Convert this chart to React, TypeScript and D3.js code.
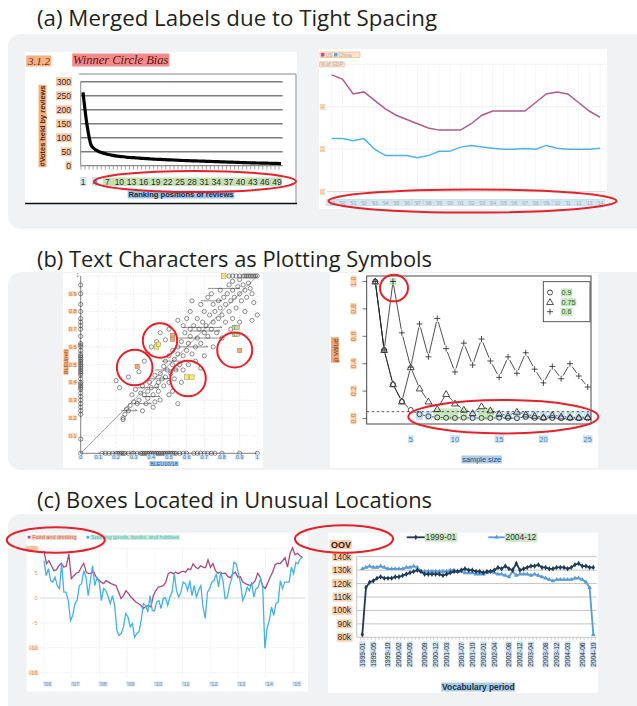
import React, { useLayoutEffect, useRef, useState } from 'react';
import * as d3 from 'd3';

// ---------------- data ----------------

// (a) left: votes held by review ranking position
const rankPositions = d3.range(1, 51);
const votesHeld = [262, 145, 74, 58, 50, 45, 41, 38, 35, 33, 32, 30, 29, 28, 27, 26, 25, 24, 23, 22.5,
  22, 21, 20.5, 20, 19, 18.5, 18, 17.5, 17, 16.5, 16, 15.5, 15, 14.5, 14, 13.5, 13, 12.5, 12, 11.5,
  11, 10.5, 10, 9.7, 9.4, 9, 8.7, 8.3, 8, 7.5];
const votesTicks = [0, 50, 100, 150, 200, 250, 300];
const rankTickLabels = [1, 4, 7, 10, 13, 16, 19, 22, 25, 28, 31, 34, 37, 40, 43, 46, 49];

// (a) right: % of GDP
const gdpYears = d3.range(1989, 2015);
const usGdp = [5.5, 5.3, 4.6, 4.7, 4.3, 3.9, 3.6, 3.4, 3.2, 3.0, 2.9, 2.9, 2.9, 3.2, 3.6, 3.8, 3.8, 3.8, 3.8, 4.2, 4.6, 4.7, 4.6, 4.2, 3.8, 3.5];
const chinaGdp = [2.5, 2.5, 2.4, 2.5, 2.0, 1.7, 1.7, 1.7, 1.6, 1.7, 1.9, 1.9, 2.1, 2.17, 2.1, 2.05, 2.0, 2.0, 2.03, 2.0, 2.18, 2.05, 2.0, 2.0, 2.0, 2.05];
const gdpTicks = [0, 2, 4];
const gdpLabelGroups = [[1989, 1996], [1997, 1997], [1998, 2008], [2009, 2009], [2010, 2014]];

// (b) left: scatter
const scatterCloud: [number, number][] = [
  [0.24, 0.19], [0.24, 0.2], [0.25, 0.22], [0.26, 0.25], [0.27, 0.24], [0.28, 0.27], [0.3, 0.29], [0.29, 0.33],
  [0.31, 0.36], [0.32, 0.28], [0.33, 0.3], [0.34, 0.34], [0.35, 0.38], [0.36, 0.33], [0.37, 0.28], [0.38, 0.31],
  [0.38, 0.35], [0.39, 0.4], [0.4, 0.37], [0.41, 0.33], [0.42, 0.29], [0.42, 0.44], [0.43, 0.38], [0.44, 0.4],
  [0.44, 0.35], [0.45, 0.45], [0.46, 0.42], [0.47, 0.38], [0.47, 0.49], [0.48, 0.43], [0.48, 0.52], [0.49, 0.47],
  [0.5, 0.4], [0.5, 0.55], [0.51, 0.45], [0.52, 0.5], [0.52, 0.58], [0.53, 0.42], [0.53, 0.53], [0.54, 0.47],
  [0.55, 0.56], [0.55, 0.6], [0.56, 0.5], [0.57, 0.63], [0.58, 0.55], [0.58, 0.47], [0.59, 0.68], [0.6, 0.58],
  [0.61, 0.62], [0.61, 0.5], [0.62, 0.66], [0.63, 0.56], [0.64, 0.72], [0.65, 0.6], [0.66, 0.65], [0.66, 0.76],
  [0.67, 0.7], [0.68, 0.62], [0.69, 0.74], [0.7, 0.68], [0.7, 0.8], [0.71, 0.72], [0.72, 0.66], [0.73, 0.78],
  [0.74, 0.7], [0.75, 0.84], [0.75, 0.74], [0.76, 0.8], [0.77, 0.68], [0.78, 0.86], [0.78, 0.76], [0.79, 0.82],
  [0.8, 0.78], [0.81, 0.88], [0.82, 0.84], [0.82, 0.74], [0.83, 0.9], [0.84, 0.8], [0.85, 0.86], [0.86, 0.92],
  [0.86, 0.76], [0.87, 0.88], [0.88, 0.82], [0.89, 0.94], [0.9, 0.9], [0.91, 0.86], [0.92, 0.95], [0.93, 0.92],
  [0.94, 0.88], [0.95, 0.96], [0.96, 0.93], [0.97, 0.9], [0.98, 0.85], [1.0, 0.78], [0.93, 0.8], [0.97, 0.75],
  [0.2, 0.41], [0.22, 0.37], [0.27, 0.43], [0.33, 0.46], [0.36, 0.52], [0.38, 0.56], [0.4, 0.6], [0.43, 0.63],
  [0.45, 0.68], [0.48, 0.64], [0.5, 0.7], [0.55, 0.75], [0.6, 0.76], [0.62, 0.8], [0.68, 0.84], [0.72, 0.88],
  [0.65, 0.52], [0.7, 0.55], [0.52, 0.35], [0.57, 0.4], [0.45, 0.3], [0.5, 0.33], [0.35, 0.24], [0.41, 0.26],
  [0.55, 0.28], [0.68, 0.48], [0.75, 0.6], [0.85, 0.7], [0.9, 0.74], [0.8, 0.65], [0.62, 0.7], [0.58, 0.72],
  [0.63, 0.86], [0.74, 0.9], [0.79, 0.92], [0.84, 0.95], [0.86, 0.97], [0.9, 0.98],
];
const scatterOnYAxis = [0.0, 0.08, 0.22, 0.24, 0.26, 0.28, 0.3, 0.32, 0.34, 0.36, 0.37, 0.38, 0.39, 0.4, 0.42, 0.44,
  0.45, 0.46, 0.47, 0.48, 0.49, 0.5, 0.51, 0.52, 0.53, 0.54, 0.55, 0.56, 0.58, 0.6, 0.61, 0.62, 0.66, 0.7, 0.72,
  0.74, 0.76, 0.8, 0.84, 0.9, 0.95];
const scatterOnXAxis = [0.12, 0.14, 0.16, 0.18, 0.2, 0.21, 0.22, 0.23, 0.24, 0.25, 0.27, 0.29, 0.3, 0.32, 0.34, 0.35,
  0.36, 0.37, 0.38, 0.39, 0.4, 0.41, 0.42, 0.43, 0.44, 0.45, 0.46, 0.47, 0.48, 0.49, 0.5, 0.51, 0.52, 0.53, 0.54,
  0.56, 0.58, 0.6, 0.64, 0.66, 0.68, 0.7, 0.72, 0.74, 0.76, 0.8, 0.9, 1.0];
const scatterTopRow = [0.84, 0.86, 0.88, 0.9, 0.92, 0.93, 0.94, 0.95, 0.96, 0.97, 0.98, 0.99, 1.0];
const scatterBars: [number, number, number][] = [
  [0.93, 0.72, 0.9], [0.86, 0.68, 0.8], [0.71, 0.58, 0.8], [0.69, 0.62, 0.79], [0.65, 0.55, 0.8], [0.6, 0.55, 0.72],
  [0.52, 0.46, 0.6], [0.47, 0.42, 0.55], [0.42, 0.38, 0.5], [0.37, 0.32, 0.44], [0.32, 0.35, 0.45], [0.28, 0.3, 0.4],
  [0.24, 0.23, 0.32],
];
const scatterMarked: [number, number, string][] = [
  [0.52, 0.665, 'orange'], [0.52, 0.643, 'orange'], [0.32, 0.49, 'orange'], [0.9, 0.58, 'orange'],
  [0.43, 0.6, 'yellow'], [0.44, 0.615, 'yellow'], [0.6, 0.43, 'yellow'], [0.63, 0.43, 'yellow'], [0.81, 1.0, 'yellow'],
  [0.87, 0.71, 'green'], [0.885, 0.71, 'green'], [0.87, 0.67, 'green'], [0.885, 0.67, 'green'],
];
const unitTicks = [0, 0.1, 0.2, 0.3, 0.4, 0.5, 0.6, 0.7, 0.8, 0.9, 1];

// (b) right: p value by sample size
const sampleSizes = d3.range(1, 26);
const pSeries09 = [1, 0.5, 0.25, 0.125, 0.0625, 0.031, 0.016, 0.008, 0.005, 0.004, 0.006, 0.003, 0.004, 0.003, 0.006,
  0.004, 0.002, 0.012, 0.004, 0.003, 0.004, 0.002, 0.003, 0.002, 0.002];
const pSeries075 = [1, 0.5, 0.25, 0.125, 0.375, 0.22, 0.125, 0.07, 0.18, 0.11, 0.065, 0.04, 0.09, 0.06, 0.035,
  0.02, 0.05, 0.03, 0.02, 0.01, 0.025, 0.015, 0.01, 0.008, 0.012];
const pSeries06 = [1, 0.5, 1.0, 0.625, 0.375, 0.69, 0.45, 0.73, 0.51, 0.34, 0.55, 0.39, 0.58, 0.42, 0.30, 0.45,
  0.33, 0.48, 0.36, 0.26, 0.38, 0.29, 0.40, 0.31, 0.23];
const pTicks = [0, 0.2, 0.4, 0.6, 0.8, 1.0];
const sizeTicks = [5, 10, 15, 20, 25];
const pBlueBoxes = [[6, 6], [7, 7], [12, 12], [15, 15], [16, 16], [17, 17], [18, 18], [19, 19], [20, 20], [21, 21], [22, 22], [23, 23], [24, 24], [25, 25]];
const pGreenBoxes = [[8, 10], [11, 11], [13, 14]];

// (c) left: monthly % change, Jan 2006 - Apr 2015
const retailStart = 2006;
const retailEnd = 2015.33;
const foodDrinking = [9.5, 6.9, 7.5, 6.5, 5.5, 5.7, 6.5, 7, 6.2, 6.5, 8.9, 3.9, 4.5, 5, 5.2, 6.2, 7, 5.2, 4.9, 5,
  5.2, 4.2, 3.7, 3.2, 2.9, 3.5, 3.2, 2.9, 2.7, 2.5, 1.2, -0.1, 0.5, 1.5, 0.9, 0.2, -0.3, -0.8, -1.1, -1.5,
  -2.1, -1.7, -1.5, -1.8, 0.5, 1.5, 2.2, 2.3, 2.5, 3.2, 4.9, 5.2, 4.9, 5.2, 4.9, 5.2, 5.4, 5.2, 5.9, 5.7,
  6.9, 6.2, 5.9, 6.5, 6.2, 6.1, 7.7, 6.2, 6.9, 5.5, 5, 5.2, 4.9, 5, 4.3, 4.1, 4.9, 5.2, 4.2, 4.3,
  3.2, 2.9, 2.7, 2.5, 2.9, 3.5, 5, 4.2, 2.5, 1.9, 3, 4.2, 5.2, 6.7, 7, 6.9, 7.5, 8.1, 6.2, 8.9,
  10.1, 8.7, 9, 8.5, 8.2];
const sportingGoods = [7.5, 4.5, 5.9, 3.5, 3.2, 4.2, 2.5, 1.9, 6.9, 1.2, 1.2, -0.5, -4.5, -3.5, -1.1, -0.5, 2.5, 2.9, 5.5, 4.2,
  0.5, 3.5, 6.5, 2.5, 4.1, 3.2, -0.5, 1.9, 1.5, 0.3, -1.1, 0.5, -1.5, -6.5, -7.5, -7.1, -5.8, -3.1, -3.8, -5.8,
  -5.1, -7.9, -7.1, -6.8, -4.5, -1.1, -1.5, -2.8, 0.5, -2.5, -2.6, -0.8, -0.5, -2.1, -0.1, 0.1, -1.5, 0.2, 1.2, 4.9,
  1.5, 0.2, 1.2, 3.2, 2.9, 1.5, 3.5, 0.5, 2.5, 0.2, 1.5, 2.5, -1.8, -4.1, 1.2, 1.9, 3.2, 3.5, 4.9, 2.2,
  5.2, 3.5, -0.1, 0.2, 2.5, 3.9, 7.2, 6.9, 4.9, 2.9, -0.5, 0.5, 2.2, 1.5, 3.2, 0.2, 1.9, 2.2, 3.9, 2.2,
  -10.1, -6.1, -4.5, -1.8, -3.5, -1.1, -0.8, 3.5, 1.9, 3.2, 3.2, 3.2, 6.2, 4.9, 7.2, 6.9, 7.9, 8.2];
const retailYears = [2006, 2007, 2008, 2009, 2010, 2011, 2012, 2013, 2014, 2015];
const retailTicks = [10, 5, 0, -5, -10, -15];

// (c) right: OOV by vocabulary period (thousands)
const oov199901 = [82, 117, 121, 122, 124, 125, 124, 124, 124, 125, 125, 126, 127, 128, 129, 130, 129, 127, 127, 127,
  127, 127, 126, 127, 128, 129, 129, 130, 131, 130, 130, 129, 129, 128, 129, 129, 130, 132, 131, 133,
  131, 130, 135, 130, 131, 132, 133, 133, 134, 132, 132, 131, 131, 132, 132, 132, 131, 132, 134, 135,
  133, 133, 132, 132];
const oov200412 = [131, 132, 133, 132, 132, 133, 132, 131, 131, 131, 131, 131, 132, 132, 133, 132, 129, 129, 129, 129,
  129, 129, 129, 129, 130, 130, 129, 129, 128, 128, 128, 127, 127, 127, 128, 129, 128, 127, 127, 126,
  125, 129, 126, 127, 127, 127, 126, 127, 126, 125, 124, 123, 122, 123, 123, 123, 123, 123, 124, 124,
  123, 121, 117, 82];
const periodLabels = ['1999-01', '1999-05', '1999-10', '2000-02', '2000-05', '2000-09', '2000-12', '2001-03',
  '2001-07', '2001-10', '2002-01', '2002-04', '2002-08', '2002-12', '2003-04', '2003-08', '2003-12', '2004-03',
  '2004-06', '2004-10'];
const oovTicks = [80, 90, 100, 110, 120, 130, 140];

// ---------------- helpers ----------------

const SANS = "'Liberation Sans', Arial, sans-serif";
const RED = '#e5212b';

type LabelProps = {
  x: number; y: number; text: string | number; size?: number; fill?: string; bg?: string; stroke?: string;
  anchor?: 'start' | 'middle' | 'end'; weight?: number | string; family?: string; italic?: boolean;
  rotate?: number; padX?: number; padY?: number;
};

// text with a highlight rectangle behind it (sized from the rendered text)
const Label: React.FC<LabelProps> = ({ x, y, text, size = 8, fill = '#333', bg, stroke, anchor = 'start',
  weight = 400, family = SANS, italic = false, rotate = 0, padX = 0.8, padY = -0.5 }) => {
  const ref = useRef<SVGTextElement>(null);
  const [box, setBox] = useState<{ x: number; y: number; w: number; h: number } | null>(null);
  useLayoutEffect(() => {
    if (ref.current && (bg || stroke)) {
      const b = ref.current.getBBox();
      setBox({ x: b.x, y: b.y, w: b.width, h: b.height });
    }
  }, [text, size, bg, stroke]);
  return (
    <g transform={`translate(${x},${y}) rotate(${rotate})`}>
      {box && (
        <rect x={box.x - padX} y={box.y - padY} width={box.w + 2 * padX} height={box.h + 2 * padY}
          fill={bg || 'none'} stroke={stroke || 'none'} strokeWidth={0.6} />
      )}
      <text ref={ref} fontSize={size} fill={fill} textAnchor={anchor} fontWeight={weight}
        fontFamily={family} fontStyle={italic ? 'italic' : 'normal'}>{text}</text>
    </g>
  );
};

// R type="b" lines: segments with a gap around each point
function gappedPath(pts: [number, number][], gap = 3.6) {
  const p = d3.path();
  for (let i = 0; i < pts.length - 1; i++) {
    const [x1, y1] = pts[i];
    const [x2, y2] = pts[i + 1];
    const len = Math.hypot(x2 - x1, y2 - y1);
    if (len <= 2 * gap) continue;
    const ux = (x2 - x1) / len, uy = (y2 - y1) / len;
    p.moveTo(x1 + ux * gap, y1 + uy * gap);
    p.lineTo(x2 - ux * gap, y2 - uy * gap);
  }
  return p.toString();
}

// ---------------- (a) left ----------------
const WinnerCircle = () => {
  const x = d3.scaleLinear().domain([1, 50]).range([83, 281]);
  const y = d3.scaleLinear().domain([0, 300]).range([165.7, 81.7]);
  const line = d3.line<number>().x((_, i) => x(rankPositions[i])).y(d => y(d)).curve(d3.curveMonotoneX);
  return (
    <g>
      <rect x={25} y={52} width={272} height={152} fill="#fff" />
      <Label x={28} y={65} text="3.1.2" size={11} italic family="'Liberation Serif', serif" fill="#7a2a10" bg="#f4b183" />
      <Label x={73} y={64} text="Winner Circle Bias" size={12.5} italic family="'Liberation Serif', serif" fill="#6b0f12" bg="#ef8b8b" />
      <line x1={79} x2={296} y1={74} y2={74} stroke="#8a8a8a" />
      <line x1={296} x2={296} y1={74} y2={203} stroke="#8a8a8a" />
      <line x1={25} x2={297} y1={203.5} y2={203.5} stroke="#111" strokeWidth={1.3} />
      {votesTicks.map(t => (
        <g key={t}>
          {t > 0 && <line x1={80.7} x2={282.7} y1={y(t)} y2={y(t)} stroke="#7d7d7d" strokeWidth={1.4} />}
          <Label x={71} y={y(t) + 3} text={t} size={8.5} anchor="end" fill="#3a2a1a" bg="#f8cbad" />
        </g>
      ))}
      <line x1={80.7} x2={80.7} y1={81.7} y2={165.7} stroke="#8a8a8a" />
      <line x1={80.7} x2={282.7} y1={165.7} y2={165.7} stroke="#8a8a8a" strokeWidth={1.2} />
      {rankPositions.map(r => (
        <line key={r} x1={x(r) - 2} x2={x(r) - 2} y1={165.7} y2={169.5} stroke="#8a8a8a" strokeWidth={0.8} />
      ))}
      <path d={line(votesHeld) || ''} fill="none" stroke="#000" strokeWidth={3.2} strokeLinejoin="round" />
      <rect x={103} y={177.5} width={179} height={8.5} fill="#c6e0b4" />
      {rankTickLabels.map((r, i) => (
        <Label key={r} x={x(r)} y={184.5} text={r} size={8.5} anchor="middle" fill="#2c2c2c"
          bg={i < 2 ? '#cfe3f3' : undefined} />
      ))}
      <Label x={181} y={197} text="Ranking positions of reviews" size={7.6} weight={700} anchor="middle" fill="#1d2a40" bg="#9dc3e6" />
      <Label x={45} y={126} text="#Votes held by reviews" size={7.4} weight={700} anchor="middle" rotate={-90} fill="#4a2a10" bg="#f4b183" />
      <ellipse cx={195} cy={181.5} rx={101} ry={10.5} fill="none" stroke={RED} strokeWidth={2} />
    </g>
  );
};

// ---------------- (a) right ----------------
const GdpChart = () => {
  const x = d3.scaleLinear().domain([1989, 2014]).range([331.7, 600]);
  const y = d3.scaleLinear().domain([0, 6]).range([191.7, 64.3]);
  const line = d3.line<number>().x((_, i) => x(gdpYears[i])).y(d => y(d));
  const small = 5.6;
  return (
    <g>
      <rect x={319} y={49} width={288} height={160} fill="#fff" />
      {gdpYears.map(yr => (
        <line key={yr} x1={x(yr)} x2={x(yr)} y1={64} y2={191.7} stroke="#f4f4f4" strokeWidth={0.8} />
      ))}
      {[2, 4, 6].map(t => (
        <line key={t} x1={327} x2={606} y1={y(t)} y2={y(t)} stroke="#efefef" strokeWidth={0.8} />
      ))}
      <line x1={327} x2={606} y1={y(0)} y2={y(0)} stroke="#d4d4d4" strokeWidth={1} />
      <path d={line(usGdp) || ''} fill="none" stroke="#b05a8e" strokeWidth={1.5} />
      <path d={line(chinaGdp) || ''} fill="none" stroke="#4fb3e8" strokeWidth={1.5} />
      {/* legend */}
      <rect x={320} y={52} width={40} height={5.5} fill="#fbe3cc" stroke="#f2b07a" strokeWidth={0.6} />
      <rect x={321} y={53} width={3.5} height={3.5} fill="#b05a8e" />
      <text x={325.5} y={56.8} fontSize={5} fill="#b9a5a8" fontFamily={SANS}>US</text>
      <rect x={334} y={53} width={3.5} height={3.5} fill="#4fb3e8" />
      <text x={338.5} y={56.8} fontSize={5} fill="#b9a5a8" fontFamily={SANS}>China</text>
      <Label x={320.5} y={66.4} text="% of GDP" size={small - 0.6} fill="#aaa" bg="#fbe3cc" stroke="#f2b07a" />
      {gdpTicks.map(t => (
        <Label key={t} x={321} y={y(t) + 2} text={t} size={small} fill="#e0a060" bg="#fdeedf" stroke="#f4bb88" />
      ))}
      {gdpLabelGroups.map(([a, b]) => (
        <rect key={a} x={x(a) - 5} y={199.5} width={x(b) - x(a) + 10} height={6} fill="#d5e6f3" stroke="#a9cbe6" strokeWidth={0.5} />
      ))}
      {gdpYears.map(yr => (
        <text key={yr} x={x(yr)} y={204.6} fontSize={5} textAnchor="middle" fill="#9aa6b2" fontFamily={SANS}>
          {`'${String(yr).slice(2)}`}
        </text>
      ))}
      <ellipse cx={472.5} cy={201} rx={144} ry={11.5} fill="none" stroke={RED} strokeWidth={2} />
    </g>
  );
};

// ---------------- (b) left ----------------
const ScatterChart = () => {
  const x = d3.scaleLinear().domain([0, 1]).range([80.7, 257.3]);
  const y = d3.scaleLinear().domain([0, 1]).range([453.3, 276]);
  const markColor: Record<string, string> = { orange: '#f2a67a', yellow: '#f3ee6a', green: '#b6dfa6' };
  const r = 2.1;
  return (
    <g>
      <rect x={63} y={273} width={200} height={195} fill="#fff" />
      {unitTicks.map(t => (
        <g key={t}>
          <line x1={x(t)} x2={x(t)} y1={y(0)} y2={y(1)} stroke="#cfcfcf" strokeWidth={0.6} strokeDasharray="1,1.6" />
          <line x1={x(0)} x2={x(1)} y1={y(t)} y2={y(t)} stroke="#cfcfcf" strokeWidth={0.6} strokeDasharray="1,1.6" />
        </g>
      ))}
      <line x1={x(0)} x2={x(0)} y1={y(0)} y2={y(1)} stroke="#555" strokeWidth={0.7} />
      <line x1={x(0)} x2={x(1)} y1={y(0)} y2={y(0)} stroke="#555" strokeWidth={0.7} />
      <line x1={x(0)} x2={x(1)} y1={y(0)} y2={y(1)} stroke="#666" strokeWidth={0.6} />
      {scatterBars.map(([yy, a, b], i) => (
        <g key={i}>
          <line x1={x(a)} x2={x(b)} y1={y(yy)} y2={y(yy)} stroke="#444" strokeWidth={0.6} />
          <line x1={x(b)} x2={x(b) - 2} y1={y(yy)} y2={y(yy) - 1.2} stroke="#444" strokeWidth={0.5} />
        </g>
      ))}
      <g fill="none" stroke="#333" strokeWidth={0.55}>
        {scatterCloud.map(([a, b], i) => <circle key={'c' + i} cx={x(a)} cy={y(b)} r={r} />)}
        {scatterOnYAxis.map((b, i) => <circle key={'y' + i} cx={x(0)} cy={y(b)} r={r} />)}
        {scatterOnXAxis.map((a, i) => <circle key={'x' + i} cx={x(a)} cy={y(0)} r={r} />)}
        {scatterTopRow.map((a, i) => <circle key={'t' + i} cx={x(a)} cy={y(1)} r={r} />)}
      </g>
      {scatterMarked.map(([a, b, c], i) => (
        <rect key={i} x={x(a) - 2.2} y={y(b) - 2.2} width={4.4} height={4.4} fill={markColor[c]} stroke="#8a6a3a" strokeWidth={0.4} />
      ))}
      {unitTicks.slice(1, 10).map(t => (
        <Label key={t} x={76.5} y={y(t) + 2} text={t} size={5.4} anchor="end" fill="#c46a2a" bg="#fbd8bd" />
      ))}
      <text x={79} y={277} fontSize={5} fill="#5a9a4a" fontFamily={SANS} textAnchor="end">1</text>
      {unitTicks.map(t => (
        <Label key={t} x={x(t)} y={459} text={t} size={5.4} anchor="middle" fill="#3d78b5" bg="#d3e5f4" />
      ))}
      <Label x={164} y={465.5} text="BLEU10/18" size={5.4} anchor="middle" fill="#2b5d94" bg="#a9c9ea" />
      <Label x={68} y={362} text="BLEU(ref)" size={5.4} anchor="middle" rotate={-90} fill="#a04a10" bg="#f2b48a" />
      <circle cx={160} cy={340.5} r={17.2} fill="none" stroke={RED} strokeWidth={2} />
      <circle cx={134.7} cy={367.5} r={17.8} fill="none" stroke={RED} strokeWidth={2} />
      <circle cx={188} cy={378.5} r={17.8} fill="none" stroke={RED} strokeWidth={2} />
      <circle cx={234.7} cy={350} r={17.5} fill="none" stroke={RED} strokeWidth={2} />
    </g>
  );
};

// ---------------- (b) right ----------------
const PValueChart = () => {
  const x = d3.scaleLinear().domain([1, 25]).range([375.3, 587.7]);
  const y = d3.scaleLinear().domain([-0.04, 1.04]).range([424, 276]);
  const pts = (s: number[]) => s.map((v, i) => [x(sampleSizes[i]), y(v)] as [number, number]);
  const tri = d3.symbol(d3.symbolTriangle, 20)() || '';
  const circleSym = (cx: number, cy: number, k: string) => (
    <circle key={k} cx={cx} cy={cy} r={2.5} fill="none" stroke="#222" strokeWidth={0.8} />
  );
  const triSym = (cx: number, cy: number, k: string) => (
    <path key={k} d={tri} transform={`translate(${cx},${cy + 0.6})`} fill="none" stroke="#222" strokeWidth={0.8} />
  );
  const plusSym = (cx: number, cy: number, k: string) => (
    <path key={k} d={`M${cx - 3},${cy}H${cx + 3}M${cx},${cy - 3}V${cy + 3}`} stroke="#222" strokeWidth={0.8} />
  );
  const boxY0 = y(0.075), boxY1 = y(-0.012);
  return (
    <g>
      <rect x={330} y={273} width={268} height={195} fill="#fff" />
      {pBlueBoxes.map(([a, b]) => (
        <rect key={'b' + a} x={x(a) - 3.6} y={boxY0 + 3} width={x(b) - x(a) + 7.2} height={boxY1 - boxY0 - 3} fill="#c7dff2" />
      ))}
      {pGreenBoxes.map(([a, b]) => (
        <rect key={'g' + a} x={x(a) - 3.8} y={boxY0} width={x(b) - x(a) + 7.6} height={boxY1 - boxY0} fill="#c8e6c0" />
      ))}
      <rect x={x(3) - 3.5} y={y(1) - 3.5} width={7} height={7} fill="#c8e6c0" />
      <rect x={366.7} y={276} width={224.3} height={148} fill="none" stroke="#333" strokeWidth={0.9} />
      <line x1={366.7} x2={591} y1={y(0.05)} y2={y(0.05)} stroke="#333" strokeWidth={0.8} strokeDasharray="2.5,2.5" />
      <path d={gappedPath(pts(pSeries09))} stroke="#222" strokeWidth={0.8} fill="none" />
      <path d={gappedPath(pts(pSeries075))} stroke="#222" strokeWidth={0.8} fill="none" />
      <path d={gappedPath(pts(pSeries06))} stroke="#222" strokeWidth={0.8} fill="none" />
      {pts(pSeries09).map(([a, b], i) => circleSym(a, b, 'c' + i))}
      {pts(pSeries075).map(([a, b], i) => triSym(a, b, 't' + i))}
      {pts(pSeries06).map(([a, b], i) => plusSym(a, b, 'p' + i))}
      {pTicks.map(t => (
        <g key={t}>
          <line x1={366.7} x2={362.5} y1={y(t)} y2={y(t)} stroke="#333" strokeWidth={0.7} />
          <Label x={356} y={y(t)} text={t.toFixed(1)} size={7} anchor="middle" rotate={-90} fill="#c77a3a" bg="#fad5b6" />
        </g>
      ))}
      {sizeTicks.map(t => (
        <Label key={t} x={x(t)} y={441.5} text={t} size={7.4} anchor="middle" fill="#3a7cc0" bg="#d2e6f5" />
      ))}
      <Label x={481.7} y={462} text="sample size" size={7.4} anchor="middle" fill="#2b4f80" bg="#a9cdea" />
      <Label x={337.5} y={350} text="p value" size={7.4} anchor="middle" rotate={-90} fill="#8a3a10" bg="#f2a67a" />
      {/* legend */}
      <rect x={543.3} y={281.7} width={46.7} height={40} fill="#fff" stroke="#444" strokeWidth={0.9} />
      {circleSym(550, 292.5, 'lc')}
      {triSym(550, 302, 'lt')}
      {plusSym(550, 311.7, 'lp')}
      <Label x={561.5} y={295} text="0.9" size={7.2} fill="#2f5a2f" bg="#c8e6c0" />
      <Label x={561.5} y={304.6} text="0.75" size={7.2} fill="#2f5a2f" bg="#c8e6c0" />
      <Label x={561.5} y={314.3} text="0.6" size={7.2} fill="#2f5a2f" bg="#c8e6c0" />
      <ellipse cx={503.3} cy={416.7} rx={95} ry={16.7} fill="none" stroke={RED} strokeWidth={2} />
      <ellipse cx={394} cy={288} rx={14} ry={13.3} fill="none" stroke={RED} strokeWidth={2} />
    </g>
  );
};

// ---------------- (c) left ----------------
const RetailChart = () => {
  const x = d3.scaleLinear().domain([2006, 2016]).range([44, 321]);
  const y = d3.scaleLinear().domain([-15, 10]).range([672.7, 548.3]);
  const lineFor = (s: number[]) => d3.line<number>()
    .x((_, i) => x(retailStart + (i * (retailEnd - retailStart)) / (s.length - 1)))
    .y(d => y(d))(s) || '';
  return (
    <g>
      <rect x={26.7} y={533} width={281.3} height={158.7} fill="#fff" />
      {retailYears.map(yr => (
        <line key={yr} x1={x(yr)} x2={x(yr)} y1={546} y2={678} stroke="#f3f3f3" strokeWidth={0.8} />
      ))}
      {retailTicks.filter(t => t !== 0).map(t => (
        <line key={t} x1={40} x2={305} y1={y(t)} y2={y(t)} stroke="#f1f1f1" strokeWidth={0.8} />
      ))}
      <line x1={40} x2={305} y1={y(0)} y2={y(0)} stroke="#d9d9d9" strokeWidth={1} />
      <path d={lineFor(foodDrinking)} fill="none" stroke="#a94b82" strokeWidth={1.3} />
      <path d={lineFor(sportingGoods)} fill="none" stroke="#45b0e6" strokeWidth={1.3} />
      {retailTicks.map(t => (
        <Label key={t} x={37.5} y={y(t) + 2} text={t === 10 ? '10%' : t} size={5.6} anchor="end" fill="#e39a62"
          bg={t === 10 || t <= -10 ? '#fbd7bb' : undefined} />
      ))}
      {retailYears.map(yr => (
        <Label key={yr} x={x(yr)} y={686} text={`'${String(yr).slice(2)}`} size={5.6} fill="#7d9cba" bg="#cfe1f0" />
      ))}
      <rect x={27.7} y={535.8} width={2.8} height={2.8} fill="#a94b82" />
      <Label x={32.2} y={539.3} text="Food and drinking" size={5.5} fill="#c0627f" bg="#f9d0b2" />
      <rect x={86.5} y={535.8} width={2.8} height={2.8} fill="#45b0e6" />
      <Label x={91} y={539.3} text="Sporting goods, books, and hobbies" size={5.5} fill="#56b3c4" bg="#c9ecd8" />
      <ellipse cx={55.8} cy={540} rx={49} ry={12.7} fill="none" stroke={RED} strokeWidth={2} />
    </g>
  );
};

// ---------------- (c) right ----------------
const OovChart = () => {
  const n = oov199901.length;
  const x = d3.scaleLinear().domain([0, n - 1]).range([362.3, 593.3]);
  const y = d3.scaleLinear().domain([80, 140]).range([637.3, 556.7]);
  const line = d3.line<number>().x((_, i) => x(i)).y(d => y(d));
  const dia = d3.symbol(d3.symbolDiamond, 9)() || '';
  const tri = d3.symbol(d3.symbolTriangle, 9)() || '';
  const dark = '#1f3a56';
  const light = '#5b9bd5';
  return (
    <g>
      <rect x={328} y={532.7} width={270} height={160.3} fill="#fff" />
      {oovTicks.map(t => (
        <g key={t}>
          <line x1={356.7} x2={596.7} y1={y(t)} y2={y(t)} stroke="#bdbdbd" strokeWidth={0.9} />
          <Label x={351} y={y(t) + 3} text={`${t}k`} size={8.4} anchor="end" fill="#3a2a20" bg="#fbd2b3" />
        </g>
      ))}
      <line x1={356.7} x2={356.7} y1={556.7} y2={637.3} stroke="#bdbdbd" strokeWidth={0.9} />
      {d3.range(n + 1).map(i => (
        <line key={i} x1={x(i) - 1.8} x2={x(i) - 1.8} y1={637.3} y2={640} stroke="#bdbdbd" strokeWidth={0.6} />
      ))}
      <path d={line(oov200412) || ''} fill="none" stroke={light} strokeWidth={1.8} />
      {oov200412.map((v, i) => <path key={'l' + i} d={tri} transform={`translate(${x(i)},${y(v)})`} fill={light} />)}
      <path d={line(oov199901) || ''} fill="none" stroke={dark} strokeWidth={1.8} />
      {oov199901.map((v, i) => <path key={'d' + i} d={dia} transform={`translate(${x(i)},${y(v)})`} fill={dark} />)}
      {periodLabels.map((lab, i) => (
        <Label key={lab} x={x(Math.round((i * (n - 1)) / (periodLabels.length - 1))) + 2.4} y={642.5} text={lab}
          size={6.6} anchor="end" rotate={-90} fill="#333" bg="#c9def2" />
      ))}
      <Label x={478.3} y={690} text="Vocabulary period" size={8.4} weight={700} anchor="middle" fill="#1d2e44" bg="#a9cce9" />
      <Label x={331} y={547.5} text="OOV" size={9} weight={700} fill="#2a1a10" bg="#f9cdab" />
      {/* legend */}
      <line x1={406.7} x2={425} y1={537.3} y2={537.3} stroke={dark} strokeWidth={1.8} />
      <path d={dia} transform="translate(415.8,537.3)" fill={dark} />
      <Label x={425.5} y={540.4} text="1999-01" size={8.4} fill="#333" bg="#cfe6c8" />
      <line x1={488.3} x2={505} y1={537.3} y2={537.3} stroke={light} strokeWidth={1.8} />
      <path d={tri} transform="translate(496.6,537.3)" fill={light} />
      <Label x={505.5} y={540.4} text="2004-12" size={8.4} fill="#333" bg="#cfe6c8" />
      <ellipse cx={344} cy={539} rx={49} ry={13.7} fill="none" stroke={RED} strokeWidth={2} />
    </g>
  );
};

// ---------------- page ----------------
const App: React.FC = () => {
  const titleStyle = { fontFamily: "'Open Sans', 'Noto Sans', sans-serif", fontSize: 21.5, fill: '#231f20' };
  return (
    <svg width={637} height={706} style={{ position: 'absolute', left: 0, top: 0, background: '#fff' }}>
      <rect x={8} y={34} width={700} height={195} rx={13} fill="#f1f2f4" />
      <rect x={8} y={272} width={700} height={198} rx={13} fill="#f1f2f4" />
      <rect x={8} y={514} width={700} height={205} rx={13} fill="#f1f2f4" />
      <text x={37} y={26} {...titleStyle} textLength={400} lengthAdjust="spacingAndGlyphs">(a) Merged Labels due to Tight Spacing</text>
      <text x={37} y={267} {...titleStyle} textLength={395} lengthAdjust="spacingAndGlyphs">(b) Text Characters as Plotting Symbols</text>
      <text x={37} y={508} {...titleStyle} textLength={395} lengthAdjust="spacingAndGlyphs">(c) Boxes Located in Unusual Locations</text>
      <WinnerCircle />
      <GdpChart />
      <ScatterChart />
      <PValueChart />
      <RetailChart />
      <OovChart />
    </svg>
  );
};

export default App;
